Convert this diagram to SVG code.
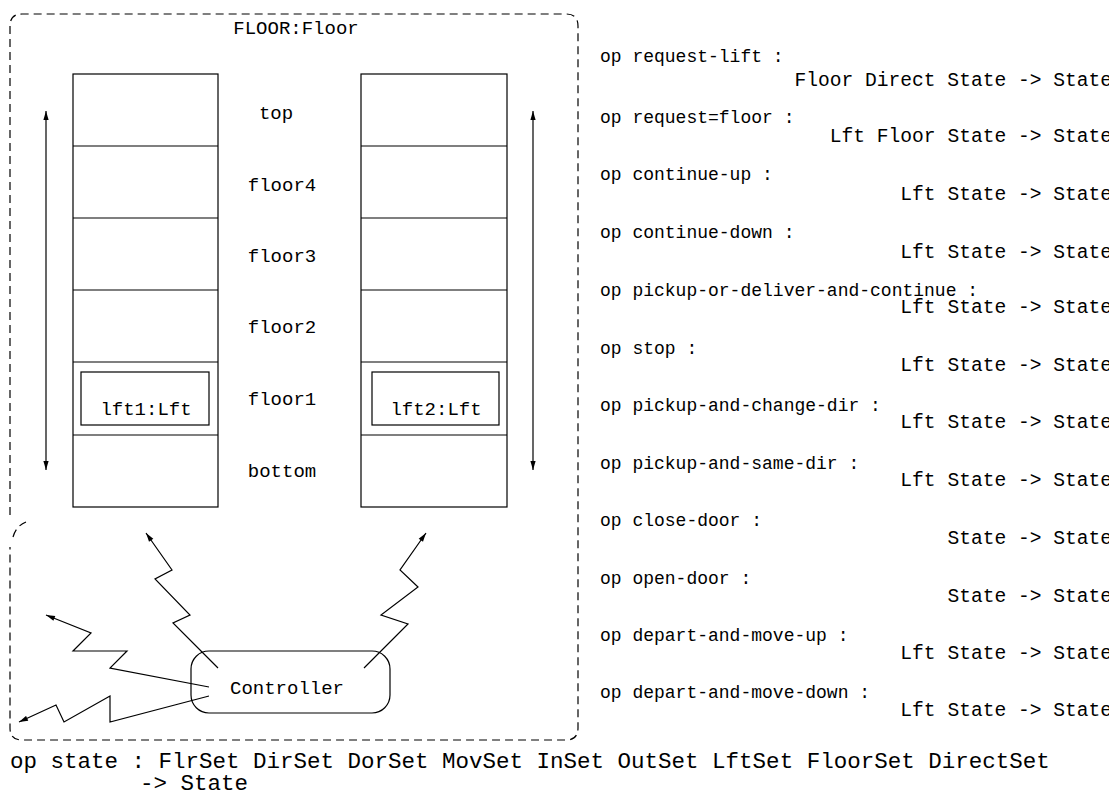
<svg xmlns="http://www.w3.org/2000/svg" width="1109" height="799" viewBox="0 0 1109 799">
<style>
  .ln { fill: none; stroke: #000; stroke-width: 1.2; }
  .dash { fill: none; stroke: #000; stroke-width: 1.2; stroke-dasharray: 8,5; }
  .t { font-family: "Liberation Mono", "Courier New", monospace; font-size: 19px; fill: #000; }
  .op { font-family: "Liberation Mono", "Courier New", monospace; font-size: 18px; fill: #000; }
  .ty { font-family: "Liberation Mono", "Courier New", monospace; font-size: 19.6px; fill: #000; text-anchor: end; }
  .big { font-family: "Liberation Mono", "Courier New", monospace; font-size: 22.5px; fill: #000; }
  .c { text-anchor: middle; }
</style>
<defs>
  <marker id="ah" viewBox="0 0 12 8" refX="12" refY="4" markerWidth="10" markerHeight="6" markerUnits="userSpaceOnUse" orient="auto-start-reverse">
    <path d="M0,0.5 L12,4 L0,7.5 Z" fill="#000"/>
  </marker>
</defs>

<g id="floor-frame">
  <path class="dash" d="M10,515 L10,26 Q10,14 22,14 L566,14 Q578,14 578,26 L578,728 Q578,740 566,740 L22,740 Q10,740 10,728 L10,547"/>
  <path class="dash" d="M13,537 Q16,526 26,522"/>
  <text class="t c" x="296" y="34">FLOOR:Floor</text>
</g>

<g id="shaft1">
  <rect class="ln" x="73" y="74" width="145" height="433"/>
  <path class="ln" d="M73,146 H218 M73,218 H218 M73,290 H218 M73,362 H218 M73,435 H218"/>
</g>
<g id="shaft2">
  <rect class="ln" x="361" y="74" width="146" height="433"/>
  <path class="ln" d="M361,146 H507 M361,218 H507 M361,290 H507 M361,362 H507 M361,435 H507"/>
</g>

<g id="floor-labels">
  <text class="t c" x="276" y="119">top</text>
  <text class="t c" x="282" y="191">floor4</text>
  <text class="t c" x="282" y="262">floor3</text>
  <text class="t c" x="282" y="333">floor2</text>
  <text class="t c" x="282" y="405">floor1</text>
  <text class="t c" x="282" y="477">bottom</text>
</g>

<g id="lft1">
  <rect class="ln" x="81" y="372" width="128" height="53"/>
  <text class="t c" x="146" y="415">lft1:Lft</text>
</g>
<g id="lft2">
  <rect class="ln" x="372" y="372" width="127" height="53"/>
  <text class="t c" x="436" y="415">lft2:Lft</text>
</g>

<g id="controller">
  <rect class="ln" x="191" y="651" width="199" height="62" rx="18" ry="18"/>
  <text class="t c" x="287" y="694">Controller</text>
</g>

<g id="connectors">
  <path class="ln" d="M46,470 L46,111" marker-start="url(#ah)" marker-end="url(#ah)"/>
  <path class="ln" d="M533,470 L533,111" marker-start="url(#ah)" marker-end="url(#ah)"/>
  <path class="ln" d="M218,668 L173,623 L190,615 L155,579 L172,570 L146,533" marker-end="url(#ah)"/>
  <path class="ln" d="M364,668 L408,624 L381,615 L418,587 L400,570 L426,533" marker-end="url(#ah)"/>
  <path class="ln" d="M209,687 L110,668 L127,651 L73,651 L91,633 L46,615" marker-end="url(#ah)"/>
  <path class="ln" d="M209,696 L110,722 L110,696 L64,722 L56,705 L19,722" marker-end="url(#ah)"/>
</g>

<g id="ops">
  <text class="op" x="600" y="62">op request-lift :</text>
  <text class="ty" x="1112" y="86">Floor Direct State -&gt; State</text>
  <text class="op" x="600" y="123">op request=floor :</text>
  <text class="ty" x="1112" y="142">Lft Floor State -&gt; State</text>
  <text class="op" x="600" y="180">op continue-up :</text>
  <text class="ty" x="1112" y="200">Lft State -&gt; State</text>
  <text class="op" x="600" y="238">op continue-down :</text>
  <text class="ty" x="1112" y="258">Lft State -&gt; State</text>
  <text class="op" x="600" y="296">op pickup-or-deliver-and-continue :</text>
  <text class="ty" x="1112" y="313">Lft State -&gt; State</text>
  <text class="op" x="600" y="354">op stop :</text>
  <text class="ty" x="1112" y="371">Lft State -&gt; State</text>
  <text class="op" x="600" y="411">op pickup-and-change-dir :</text>
  <text class="ty" x="1112" y="428">Lft State -&gt; State</text>
  <text class="op" x="600" y="469">op pickup-and-same-dir :</text>
  <text class="ty" x="1112" y="486">Lft State -&gt; State</text>
  <text class="op" x="600" y="526">op close-door :</text>
  <text class="ty" x="1112" y="544">State -&gt; State</text>
  <text class="op" x="600" y="584">op open-door :</text>
  <text class="ty" x="1112" y="602">State -&gt; State</text>
  <text class="op" x="600" y="641">op depart-and-move-up :</text>
  <text class="ty" x="1112" y="659">Lft State -&gt; State</text>
  <text class="op" x="600" y="698">op depart-and-move-down :</text>
  <text class="ty" x="1112" y="716">Lft State -&gt; State</text>
</g>

<g id="state-op">
  <text class="big" x="10" y="768">op state : FlrSet DirSet DorSet MovSet InSet OutSet LftSet FloorSet DirectSet</text>
  <text class="big" x="140" y="790">-&gt; State</text>
</g>
</svg>
